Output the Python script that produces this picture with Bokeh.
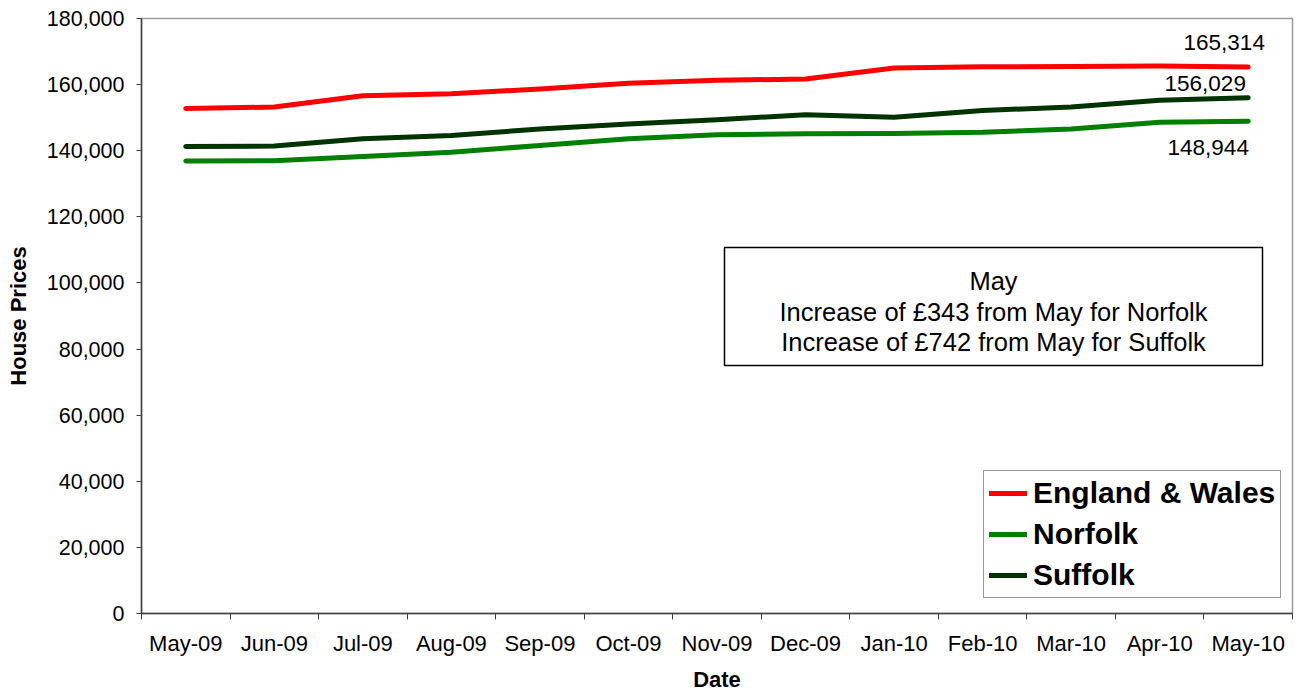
from bokeh.plotting import figure
from bokeh.models import (Range1d, FixedTicker, NumeralTickFormatter, Legend, LegendItem,
                          BoxAnnotation, Label, ColumnDataSource)
from bokeh.core.properties import value
from bokeh.embed import file_html
from bokeh.resources import INLINE

# ---------------- data ----------------
months = ["May-09", "Jun-09", "Jul-09", "Aug-09", "Sep-09", "Oct-09", "Nov-09",
          "Dec-09", "Jan-10", "Feb-10", "Mar-10", "Apr-10", "May-10"]
england_wales = [152800, 153200, 156600, 157200, 158700, 160400, 161300,
                 161700, 165000, 165400, 165500, 165600, 165314]
norfolk = [136900, 137000, 138250, 139550, 141600, 143600, 144800,
           145100, 145200, 145600, 146600, 148601, 148944]
suffolk = [141270, 141400, 143600, 144600, 146600, 148100, 149400,
           150900, 150100, 152200, 153200, 155287, 156029]
series_names = ["England & Wales", "Norfolk", "Suffolk"]
series_colors = ["#FF0000", "#008000", "#003300"]
y_ticks = list(range(0, 180001, 20000))
note_lines = ["May", "Increase of £343 from May for Norfolk",
              "Increase of £742 from May for Suffolk"]

FONT = "Liberation Sans"

# ---------------- layout (page pixels, figure drawn at the page origin) ----------------
W, H = 1294, 694
FL, FR, FT, FB = 141, 1292, 18, 613          # frame edges
N = len(months)
YMAX = 180000


def dx(px):
    return (px - FL) / (FR - FL) * N


def dy(py):
    return (FB - py) / (FB - FT) * YMAX


p = figure(width=W, height=H, output_backend="svg", toolbar_location=None,
           x_range=Range1d(0, N), y_range=Range1d(0, YMAX),
           min_border_left=FL, min_border_right=W - FR,
           min_border_top=FT, min_border_bottom=H - FB)
p.xgrid.visible = False
p.ygrid.visible = False
p.outline_line_color = "#9a9a9a"
p.outline_line_width = 1.5
p.background_fill_color = "white"
p.border_fill_color = "white"

xs = [i + 0.5 for i in range(N)]
renderers = []
for name, vals, col in zip(series_names, [england_wales, norfolk, suffolk], series_colors):
    r = p.line(xs, vals, line_color=col, line_width=5, line_cap="round", line_join="round")
    renderers.append(r)

# end-of-series value labels
last = [england_wales[-1], suffolk[-1], norfolk[-1]]
lab_src = ColumnDataSource(dict(
    x=[xs[-1]] * 3, y=last, t=[f"{v:,}" for v in last],
    xo=[-24, -43, -40], yo=[-25, -14, 26]))
p.text(x="x", y="y", text="t", x_offset="xo", y_offset="yo", source=lab_src,
       text_align="center", text_baseline="middle", text_font=value(FONT),
       text_font_size="22.5px", text_color="black")

# x axis: labels at category centres, tick marks between categories
xa = p.xaxis[0]
xa.ticker = FixedTicker(ticks=xs, minor_ticks=list(range(N + 1)))
xa.major_label_overrides = {x: m for x, m in zip(xs, months)}
xa.major_tick_line_color = None
xa.major_tick_out = 6
xa.major_tick_in = 0
xa.minor_tick_line_color = "#404040"
xa.minor_tick_out = 6
xa.minor_tick_in = 0
xa.axis_line_color = "#404040"
xa.axis_line_width = 1.5
xa.major_label_text_font = FONT
xa.major_label_text_font_size = "22px"
xa.major_label_text_color = "black"
xa.major_label_standoff = 11
xa.axis_label = "Date"
xa.axis_label_text_font = FONT
xa.axis_label_text_font_style = "bold"
xa.axis_label_text_font_size = "22px"
xa.axis_label_text_color = "black"
xa.axis_label_standoff = 8

ya = p.yaxis[0]
ya.ticker = FixedTicker(ticks=y_ticks, minor_ticks=[])
ya.formatter = NumeralTickFormatter(format="0,0")
ya.major_tick_line_color = "#404040"
ya.major_tick_out = 5
ya.major_tick_in = 0
ya.axis_line_color = "#404040"
ya.axis_line_width = 1.5
ya.major_label_text_font = FONT
ya.major_label_text_font_size = "21.5px"
ya.major_label_text_color = "black"
ya.major_label_standoff = 12
ya.axis_label = "House Prices"
ya.axis_label_text_font = FONT
ya.axis_label_text_font_style = "bold"
ya.axis_label_text_font_size = "22px"
ya.axis_label_text_color = "black"
ya.axis_label_standoff = 13

# note box
p.add_layout(BoxAnnotation(left=dx(724), right=dx(1262), top=dy(247), bottom=dy(365),
                           fill_color="white", fill_alpha=1.0,
                           line_color="black", line_width=1.5, line_alpha=1.0))
for line, base in zip(note_lines, [280, 311, 341]):
    p.add_layout(Label(x=dx(993), y=dy(base), text=line, text_align="center",
                       text_baseline="alphabetic", text_font=FONT,
                       text_font_size="25.5px", text_color="black"))

legend = Legend(items=[LegendItem(label=n, renderers=[r]) for n, r in zip(series_names, renderers)],
                location=(983 - FL, FB - 598))
legend.label_text_font = FONT
legend.label_text_font_style = "bold"
legend.label_text_font_size = "30px"
legend.label_text_color = "black"
legend.glyph_width = 38
legend.glyph_height = 34
legend.label_height = 34
legend.label_standoff = 6
legend.spacing = 7
legend.padding = 5
legend.margin = 0
legend.border_line_color = "#333333"
legend.border_line_width = 1.5
legend.background_fill_alpha = 1.0
p.add_layout(legend)

open("out.html", "w").write(file_html(p, INLINE))
